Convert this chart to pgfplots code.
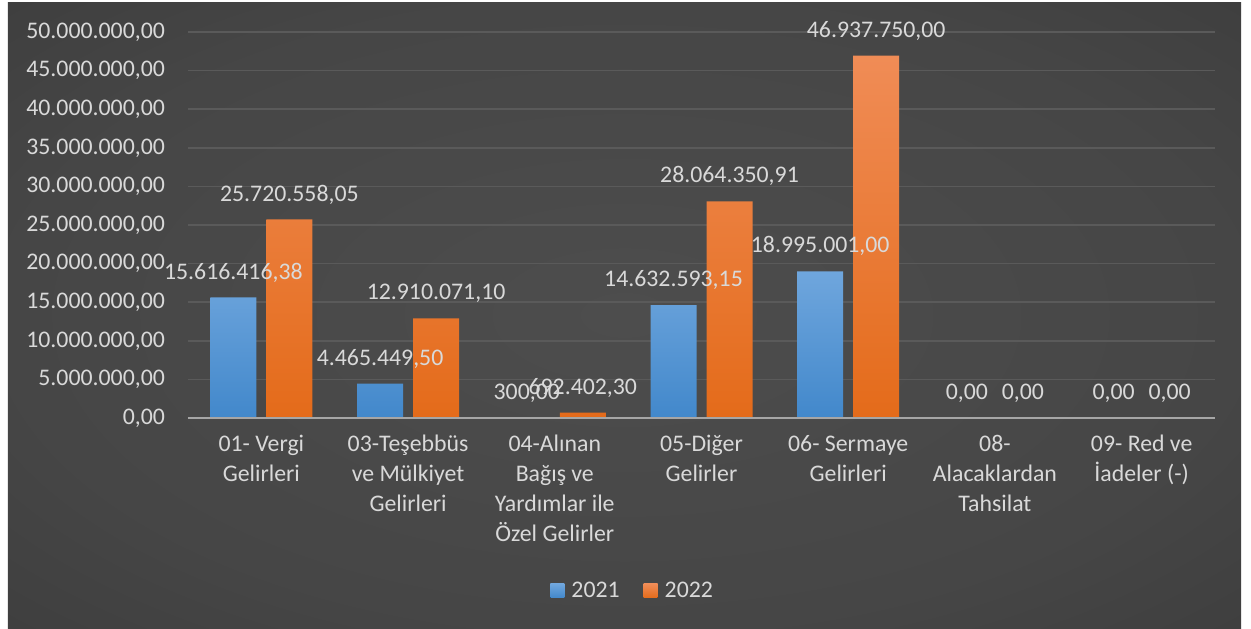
\documentclass[border=0pt]{standalone}
\usepackage{fontspec}
\setmainfont{Carlito}
\usepackage{pgfplots}
\pgfplotsset{compat=1.18}
\definecolor{txt}{HTML}{D9D9D9}
\definecolor{gridc}{HTML}{5A5A5A}
\definecolor{axc}{HTML}{A6A6A6}
\definecolor{bluetop}{HTML}{6FA6DD}
\definecolor{bluebot}{HTML}{4288CB}
\definecolor{orgtop}{HTML}{F08C56}
\definecolor{orgbot}{HTML}{E46B1A}
\definecolor{bgA}{HTML}{4D4D4D}
\definecolor{bgB}{HTML}{464646}
\definecolor{bgC}{HTML}{353535}
\definecolor{bgD}{HTML}{292929}
\pgfdeclareradialshading{bgshade}{\pgfpoint{0bp}{0bp}}{color(0bp)=(bgA); color(25bp)=(bgB); color(50bp)=(bgC); color(71bp)=(bgD)}
\newcommand\f{\fontsize{11.9}{15}\selectfont}

\begin{document}
\begin{tikzpicture}[x=1pt,y=1pt]
\fill[white] (-94,-105) rectangle (531.5,209);
\shade[shading=bgshade] (-90,-105) rectangle (526.5,208);
\begin{axis}[
    at={(0,0)}, anchor=south west,
    scale only axis, width=513.5pt, height=193pt,
    ymin=0, ymax=50000000, xmin=-0.5, xmax=6.5,
    ybar=5pt, bar width=23pt,
    axis line style={draw=none}, major tick length=0pt,
    ymajorgrids, grid style={color=gridc, line width=0.8pt},
    scaled y ticks=false,
    ytick={0,5000000,10000000,15000000,20000000,25000000,30000000,35000000,40000000,45000000,50000000},
    yticklabels={{0,00},{5.000.000,00},{10.000.000,00},{15.000.000,00},{20.000.000,00},{25.000.000,00},{30.000.000,00},{35.000.000,00},{40.000.000,00},{45.000.000,00},{50.000.000,00}},
    xtick={0,1,2,3,4,5,6},
    xticklabels={{01- Vergi\\Gelirleri},{03-Teşebbüs\\ve Mülkiyet\\Gelirleri},{04-Alınan\\Bağış ve\\Yardımlar ile\\Özel Gelirler},{05-Diğer\\Gelirler},{06- Sermaye\\Gelirleri},{08-\\Alacaklardan\\Tahsilat},{09- Red ve\\İadeler (-)}},
    x tick label style={align=center, text=txt, font=\f, yshift=-5pt},
    y tick label style={text=txt, font=\f, xshift=-8pt},
    nodes near coords, point meta=explicit symbolic,
    nodes near coords style={text=txt, font=\f, anchor=center, yshift=12.5pt},
    legend style={at={(0.434,-0.448)}, anchor=center, legend columns=2, draw=none, fill=none, text=txt, font=\f,
        /tikz/every even column/.append style={column sep=10pt}},
    legend image code/.code={\fill[#1,draw=none] (0pt,-3.5pt) rectangle (7pt,3.5pt);},
    clip=false
]
\addplot[draw=none, top color=bluetop, bottom color=bluebot] coordinates {
    (0,15616416.38) [15.616.416,38]
    (1,4465449.50) [4.465.449,50]
    (2,300) [300,00]
    (3,14632593.15) [14.632.593,15]
    (4,18995001.00) [18.995.001,00]
    (5,0) [0,00]
    (6,0) [0,00]
};
\addlegendentry{\hspace{1.5pt}2021}
\addplot[draw=none, top color=orgtop, bottom color=orgbot] coordinates {
    (0,25720558.05) [25.720.558,05]
    (1,12910071.10) [12.910.071,10]
    (2,692402.30) [692.402,30]
    (3,28064350.91) [28.064.350,91]
    (4,46937750.00) [46.937.750,00]
    (5,0) [0,00]
    (6,0) [0,00]
};
\addlegendentry{\hspace{1.5pt}2022}
\draw[axc, line width=1pt] (rel axis cs:0,0) -- (rel axis cs:1,0);
\end{axis}
\end{tikzpicture}
\end{document}
